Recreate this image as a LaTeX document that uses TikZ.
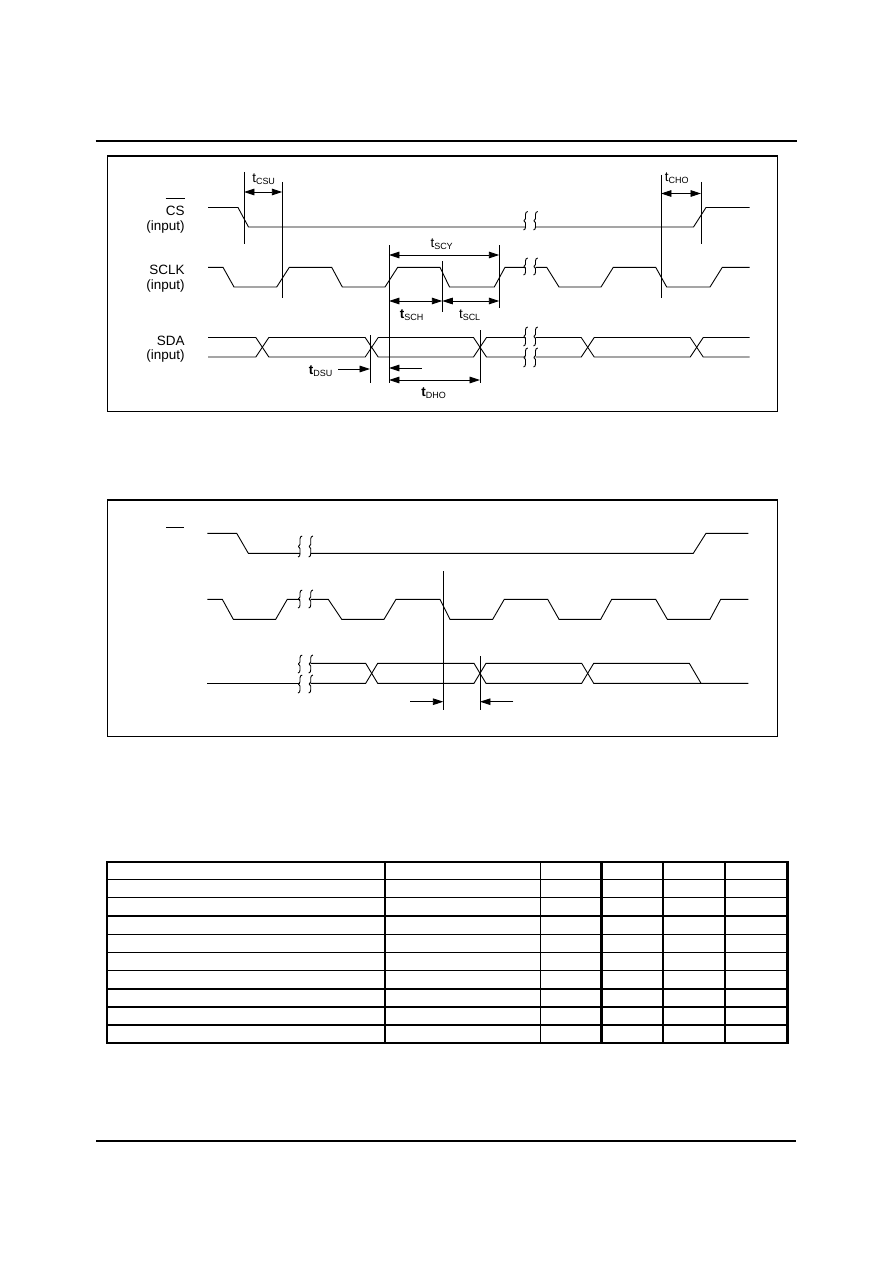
\documentclass[tikz,border=0pt]{standalone}
\usepackage{fontspec}
\setmainfont{Liberation Sans}
\usetikzlibrary{arrows.meta}
\newcommand\tsub[2]{#1\textsubscript{#2}}
\newcommand\brkmark[3]{\draw[sig,line join=round] (#1+2.2,#2) to[out=180,in=90] (#1,#2+3) -- (#1,0.5*#2+0.5*#3-2) -- (#1-1.6,0.5*#2+0.5*#3) -- (#1,0.5*#2+0.5*#3+2) -- (#1,#3-3) to[out=-90,in=0] (#1-2,#3);}
\begin{document}
\begin{tikzpicture}[x=0.6674pt,y=-0.6674pt,
  sig/.style={line width=0.6pt,line join=miter},
  vln/.style={line width=0.6pt},
  dimboth/.style={line width=0.6pt,{Triangle[length=7pt,width=4.4pt]}-{Triangle[length=7pt,width=4.4pt]}},
  dimto/.style={line width=0.6pt,-{Triangle[length=7pt,width=4.4pt]}},
  lbl/.style={font=\fontsize{9}{10}\selectfont,inner sep=0pt},
  tlbl/.style={font=\fontsize{9}{10}\selectfont,inner sep=0pt},
  boxframe/.style={line width=0.8pt},
  pagerule/.style={line width=1.5pt},
  tabthin/.style={line width=0.7pt},
  tabthick/.style={line width=1.4pt}]
\useasboundingbox (0,0) rectangle (892,1263);

% page rules
\draw[pagerule] (95.6,141) coordinate (r1a) -- (797.3,141) coordinate (r1b);
\draw[pagerule] (96,1140.7) coordinate (r2a) -- (796,1140.7) coordinate (r2b);

% ===== diagram 1 =====
\draw[boxframe] (107.3,156) rectangle (777.7,411.5);

% labels
\node[lbl,anchor=base east] (cslbl) at (185,215) {CS};
\draw[vln] ([yshift=4.6pt]cslbl.north west) -- ([yshift=4.6pt]cslbl.north east);
\node[lbl,anchor=base east] (csin) at (185,230.5) {(input)};
\node[lbl,anchor=base east] (sclklbl) at (185,274.3) {SCLK};
\node[lbl,anchor=base east] (sclkin) at (185,289) {(input)};
\node[lbl,anchor=base east] (sdalbl) at (185,345) {SDA};
\node[lbl,anchor=base east] (sdain) at (185,359.5) {(input)};

% CS
\draw[sig] (208,207.5) -- (238,207.5) -- (248.5,227) -- (525.5,227);
\draw[sig] (535.5,227) -- (693.5,227) -- (706,207.5) -- (749.5,207.5);
\brkmark{525.5}{211.5}{230}
\brkmark{535.5}{211.5}{230}

% SCLK
\draw[sig] (208,267.3) -- (223,267.3) -- (234,287) -- (276.7,287) -- (289.3,267.3) -- (331.7,267.3) -- (342.3,287) -- (385,287) -- (397.7,267.3) -- (440,267.3) -- (449.5,287) -- (494.3,287) -- (505,267.3) -- (525.5,267.3);
\draw[sig] (535.5,267.3) -- (546.7,267.3) -- (559,287) -- (601,287) -- (613.3,267.3) -- (655.7,267.3) -- (666.7,287) -- (710,287) -- (722.3,267.3) -- (749.5,267.3);
\brkmark{525.5}{258}{275}
\brkmark{535.5}{258}{275}

% SDA
\draw[sig] (208,337.5) -- (255.8,337.5) -- (268.8,357) -- (365.2,357) -- (378.2,337.5) -- (473.5,337.5) -- (486.5,357) -- (525.5,357);
\draw[sig] (208,357) -- (255.8,357) -- (268.8,337.5) -- (365.2,337.5) -- (378.2,357) -- (473.5,357) -- (486.5,337.5) -- (525.5,337.5);
\draw[sig] (535.5,337.5) -- (581.2,337.5) -- (594.2,357) -- (690.2,357) -- (703.2,337.5) -- (749.5,337.5);
\draw[sig] (535.5,357) -- (581.2,357) -- (594.2,337.5) -- (690.2,337.5) -- (703.2,357) -- (749.5,357);
\brkmark{525.5}{327}{346}
\brkmark{525.5}{348}{367}
\brkmark{535.5}{327}{346}
\brkmark{535.5}{348}{367}

% timing reference lines
\coordinate (a1t) at (244,172);   \coordinate (a1b) at (244,244);
\coordinate (a2t) at (282.3,182); \coordinate (a2b) at (282.3,298);
\coordinate (a3t) at (389,245);   \coordinate (a3b) at (389,383);
\coordinate (a4t) at (442.3,261); \coordinate (a4b) at (442.3,312);
\coordinate (a5t) at (499.3,245); \coordinate (a5b) at (499.3,308);
\coordinate (a6t) at (370,335);   \coordinate (a6b) at (370,383);
\coordinate (a7t) at (480,330);   \coordinate (a7b) at (480,383);
\coordinate (a8t) at (661,175);   \coordinate (a8b) at (661,298);
\coordinate (a9t) at (701,182);   \coordinate (a9b) at (701,244);
\foreach \n in {1,...,9} {\draw[vln] (a\n t) -- (a\n b);}

% dimension arrows
\draw[dimboth] (244,192) coordinate (csuL) -- (282.3,192) coordinate (csuR);
\node[tlbl] (tcsu) at (264,179) {\tsub{t}{CSU}};
\draw[dimboth] (389,255) coordinate (scyL) -- (499.3,255) coordinate (scyR);
\node[tlbl] (tscy) at (442,244) {\tsub{t}{SCY}};
\draw[dimboth] (389,301) coordinate (schL) -- (442.3,301) coordinate (schR);
\draw[dimboth] (442.3,301) coordinate (sclL) -- (499.3,301) coordinate (sclR);
\node[tlbl] (tsch) at (412,315) {\tsub{\textbf{t}}{SCH}};
\node[tlbl] (tscl) at (470,315) {\tsub{t}{SCL}};
\node[tlbl] (tdsu) at (321,371) {\tsub{\textbf{t}}{DSU}};
\coordinate (dsuS) at (338,369);
\draw[dimto] (dsuS) -- (370,369) coordinate (dsuE);
\coordinate (dhoS) at (421.7,368);
\draw[dimto] (dhoS) -- (389,368) coordinate (dhoE);
\draw[dimboth] (389,380) coordinate (dhoL) -- (480,380) coordinate (dhoR);
\node[tlbl] (tdho) at (434,393) {\tsub{\textbf{t}}{DHO}};
\draw[dimboth] (661,193.5) coordinate (choL) -- (701,193.5) coordinate (choR);
\node[tlbl] (tcho) at (677,178) {\tsub{t}{CHO}};

% ===== diagram 2 =====
\draw[boxframe] (107.3,500) rectangle (777.7,736.7);
\draw[vln] (166,527.3) coordinate (ovl) -- (184,527.3) coordinate (ovr);

% CS
\draw[sig] (207.3,533.3) -- (236.7,533.3) -- (248.3,553.3) -- (300,553.3);
\draw[sig] (310.7,553.3) -- (693.3,553.3) -- (706,533.3) -- (748.3,533.3);
\brkmark{300}{536}{557}
\brkmark{310.7}{536}{557}

% SCLK
\draw[sig] (207.3,599.3) -- (222.3,599.3) -- (233.3,619.3) -- (275.7,619.3) -- (287.3,599.3) -- (300,599.3);
\draw[sig] (310.7,599.3) -- (328.3,599.3) -- (341.7,619.3) -- (384,619.3) -- (396,599.3) -- (440,599.3) -- (450,619.3) -- (492.7,619.3) -- (504.3,599.3) -- (547.7,599.3) -- (559,619.3) -- (600.7,619.3) -- (611.7,599.3) -- (655.7,599.3) -- (667.3,619.3) -- (710,619.3) -- (720.7,599.3) -- (748.3,599.3);
\brkmark{300}{590}{608}
\brkmark{310.7}{590}{608}

% SDA
\draw[sig] (207.3,683.3) -- (300,683.3);
\draw[sig] (310.7,663.3) -- (365.7,663.3) -- (377.7,683.3) -- (474,683.3) -- (486,663.3) -- (581.7,663.3) -- (593.7,683.3) -- (748.3,683.3);
\draw[sig] (310.7,683.3) -- (365.7,683.3) -- (377.7,663.3) -- (474,663.3) -- (486,683.3) -- (581.7,683.3) -- (593.7,663.3) -- (689.3,663.3) -- (701,683.3);
\brkmark{300}{655}{673}
\brkmark{300}{675}{693}
\brkmark{310.7}{655}{673}
\brkmark{310.7}{675}{693}

\coordinate (b1t) at (443.3,571); \coordinate (b1b) at (443.3,710);
\coordinate (b2t) at (480,656);   \coordinate (b2b) at (480,710);
\draw[vln] (b1t) -- (b1b);
\draw[vln] (b2t) -- (b2b);
\coordinate (hS) at (410,701.7);
\coordinate (hE) at (443.3,701.7);
\coordinate (sS) at (513.3,701.7);
\coordinate (sE) at (480,701.7);
\draw[dimto] (hS) -- (hE);
\draw[dimto] (sS) -- (sE);

% ===== table =====
\draw[tabthick] (106.7,861.7) rectangle (787.5,1043.3);
\foreach \yy in {879.7,897.7,934.3,952.3,970.3,1007,1025}
  \draw[tabthin] (106.7,\yy) -- (787.5,\yy);
\foreach \yy in {916,988.7}
  \draw[tabthick] (106.7,\yy) -- (787.5,\yy);
\foreach \xx in {385,540.3,663,725}
  \draw[tabthin] (\xx,861.7) -- (\xx,1043.3);
\draw[tabthick] (601.5,861.7) -- (601.5,1043.3);
\end{tikzpicture}
\end{document}
